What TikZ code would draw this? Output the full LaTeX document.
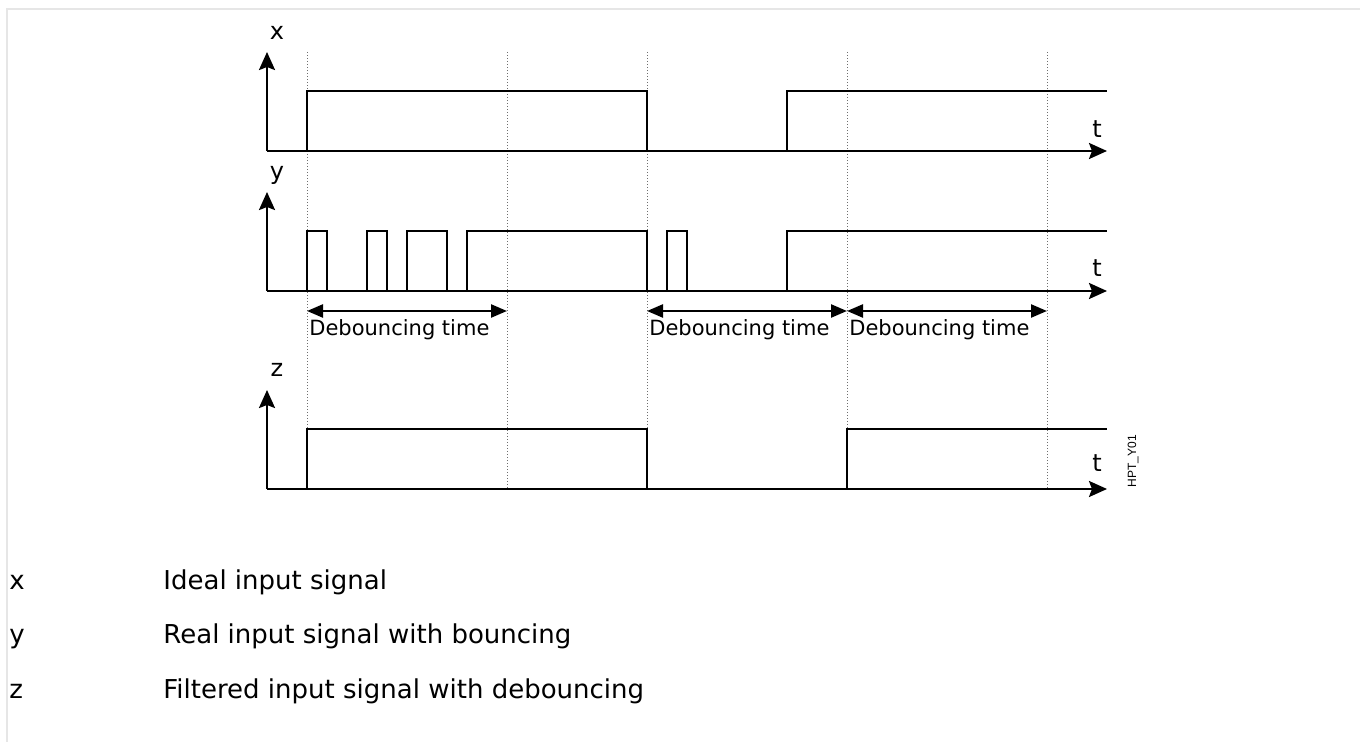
\documentclass[tikz,border=0pt]{standalone}
\usepackage{fontspec}
\setmainfont{DejaVu Sans}
\newfontfamily\tagfont{Liberation Sans}
\usetikzlibrary{arrows.meta}
\definecolor{framegray}{RGB}{230,230,230}
\definecolor{gridgray}{RGB}{110,110,110}

\begin{document}
\begin{tikzpicture}[x=0.5pt, y=-0.5pt,
  axis/.style={line width=1.2pt, -{Stealth[length=9pt, width=8pt, inset=1.5pt]}},
  signal/.style={line width=1.2pt},
  gridline/.style={gridgray, line width=0.5pt, dash pattern=on 0.5pt off 1pt},
  span/.style={line width=1.2pt, {Triangle[length=8pt, width=6.5pt]}-{Triangle[length=8pt, width=6.5pt]}},
  lbl/.style={inner sep=0, font=\fontsize{10.5}{12}\selectfont},
  axlbl/.style={inner sep=0, anchor=base, font=\fontsize{12}{14}\selectfont},
  legend/.style={inner sep=0, anchor=base west, font=\fontsize{13}{15}\selectfont}]

\useasboundingbox (0,0) rectangle (1360,742);

% frame
\draw[framegray, line width=1pt] (7,742) -- (7,9) -- (1360,9);

% time marks
\foreach \tx in {307,507,647,847,1047}
  \draw[gridline] (\tx,52) -- (\tx,490);

% Signal x - ideal
\draw[signal] (267,151) -- (307,151) -- (307,91) -- (647,91) -- (647,151) -- (787,151) -- (787,91) -- (1107,91);
\draw[axis] (267,151) -- (1107,151);
\draw[axis] (267,151) -- (267,52);
\node[axlbl] (lblx) at (277,40) {x};
\node[axlbl] (tx) at (1097,138) {t};

% Signal y - bouncing
\draw[signal] (267,291) -- (307,291) -- (307,231) -- (327,231) -- (327,291) -- (367,291) -- (367,231) -- (387,231) -- (387,291)
  -- (407,291) -- (407,231) -- (447,231) -- (447,291) -- (467,291) -- (467,231) -- (647,231) -- (647,291)
  -- (667,291) -- (667,231) -- (687,231) -- (687,291) -- (787,291) -- (787,231) -- (1107,231);
\draw[axis] (267,291) -- (1107,291);
\draw[axis] (267,291) -- (267,192);
\node[axlbl] (lbly) at (277,180) {y};
\node[axlbl] (ty) at (1097,277) {t};

% Debouncing times
\coordinate (d1a) at (307,311);
\coordinate (d1b) at (507,311);
\coordinate (d2a) at (647,311);
\coordinate (d2b) at (847,311);
\coordinate (d3b) at (1047,311);
\draw[span] (d1a) -- (d1b);
\draw[span] (d2a) -- (d2b);
\draw[span] (d2b) -- (d3b);
\node[lbl, anchor=base west] (deb1) at (309,336) {Debouncing time};
\node[lbl, anchor=base west] (deb2) at (649,336) {Debouncing time};
\node[lbl, anchor=base west] (deb3) at (849,336) {Debouncing time};

% Signal z - filtered
\draw[signal] (267,489) -- (307,489) -- (307,429) -- (647,429) -- (647,489) -- (847,489) -- (847,429) -- (1107,429);
\draw[axis] (267,489) -- (1107,489);
\draw[axis] (267,489) -- (267,390);
\node[axlbl] (lblz) at (277,377) {z};
\node[axlbl] (tz) at (1097,472) {t};

\node[inner sep=0, rotate=90, font=\tagfont\fontsize{6}{7}\selectfont] (tag) at (1133,461) {HPT\_Y01};

% Legend
\node[legend] (legx) at (9,590) {x};
\node[legend] (legxt) at (163,590) {Ideal input signal};
\node[legend] (legy) at (9,644) {y};
\node[legend] (legyt) at (163,644) {Real input signal with bouncing};
\node[legend] (legz) at (9,698) {z};
\node[legend] (legzt) at (163,698) {Filtered input signal with debouncing};

\end{tikzpicture}
\end{document}
